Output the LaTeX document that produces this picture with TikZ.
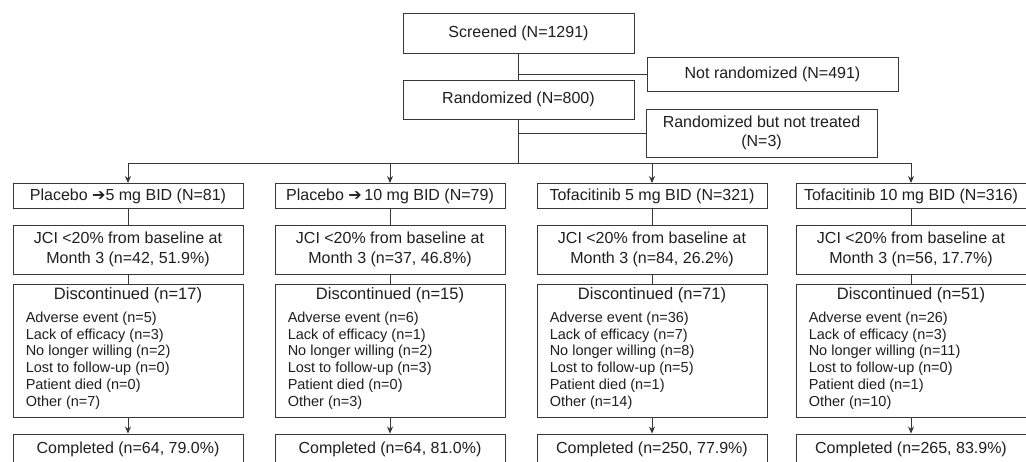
\documentclass[tikz,border=0pt]{standalone}
\usepackage{fontspec}
\setmainfont{Liberation Sans}
\newfontfamily\symfont{DejaVu Sans}
\usetikzlibrary{arrows.meta}
\definecolor{linec}{gray}{0.22}
\definecolor{txtc}{gray}{0.12}
\begin{document}
\begin{tikzpicture}[x=1pt,y=-1pt,
  box/.style={draw=linec, line width=0.9pt, inner sep=0pt, text=txtc,
    font=\fontsize{16}{20}\selectfont, align=center, minimum width=230pt},
  armbox/.style={box, minimum height=25pt},
  jcibox/.style={box, minimum height=49pt},
  discbox/.style={box, minimum height=133pt},
  compbox/.style={box, minimum height=30pt},
  disctitle/.style={inner sep=0pt, text=txtc, font=\fontsize{16.5}{20}\selectfont, anchor=center},
  disclist/.style={inner sep=0pt, text=txtc, font=\fontsize{14.5}{16.8}\selectfont, align=left, anchor=north west},
  conn/.style={draw=linec, line width=0.9pt},
  arr/.style={conn, -{Stealth[length=7pt,width=6pt]}}
]
\clip (0,0) rectangle (1026,462);
\useasboundingbox (0,0) rectangle (1026,462);
\fill[white] (0,0) rectangle (1026,462);

% top part
\node[box, minimum width=231pt, minimum height=40pt] (scr) at (518.5,33) {Screened (N=1291)};
\node[box, minimum width=251pt, minimum height=34pt] (nr) at (772.5,74) {Not randomized (N=491)};
\node[box, minimum width=231pt, minimum height=39pt] (rand) at (518.5,99.5) {Randomized (N=800)};
\node[box, minimum width=231pt, minimum height=48pt, font=\fontsize{16}{19}\selectfont] (rbnt) at (761.5,133) {Randomized but not treated\\(N=3)};
\coordinate (split) at (518.5,163);

\draw[conn] (scr.south) -- (rand.north);
\draw[conn] (nr.west) -- (nr.west -| scr.south);
\draw[conn] (rand.south) -- (split);
\draw[conn] (rbnt.west) -- (rbnt.west -| rand.south);

% arm columns
\foreach \i/\cx/\arm/\jci/\dn/\ae/\le/\nw/\lf/\pd/\ot/\cp in {
 1/128/{Placebo {\symfont ➔}5 mg BID (N=81)}/{n=42, 51.9\%}/17/5/3/2/0/0/7/{n=64, 79.0\%},
 2/390/{Placebo {\symfont ➔}\,10 mg BID (N=79)}/{n=37, 46.8\%}/15/6/1/2/3/0/3/{n=64, 81.0\%},
 3/652/{Tofacitinib 5 mg BID (N=321)}/{n=84, 26.2\%}/71/36/7/8/5/1/14/{n=250, 77.9\%},
 4/911/{Tofacitinib 10 mg BID (N=316)}/{n=56, 17.7\%}/51/26/3/11/0/1/10/{n=265, 83.9\%}}{
  \node[armbox] (a\i) at (\cx,196) {\arm};
  \node[jcibox, font=\fontsize{16}{20}\selectfont] (j\i) at (\cx,249.5) {JCI <20\% from baseline at\\Month 3 (\jci)};
  \node[discbox] (d\i) at (\cx,350.5) {};
  \node[disctitle] (dt\i) at ([yshift=-12pt]d\i.north) {Discontinued (n=\dn)};
  \node[disclist] (dl\i) at ([xshift=13pt,yshift=-28pt]d\i.north west) {Adverse event (n=\ae)\\Lack of efficacy (n=\le)\\No longer willing (n=\nw)\\Lost to follow-up (n=\lf)\\Patient died (n=\pd)\\Other (n=\ot)};
  \node[compbox] (c\i) at (\cx,449) {Completed (\cp)};
  \draw[arr] (a\i.north |- split) -- (a\i.north);
  \draw[conn] (a\i.south) -- (j\i.north);
  \draw[conn] (j\i.south) -- (d\i.north);
  \draw[arr] (d\i.south) -- (c\i.north);
}
\draw[conn] (a1.north |- split) -- (a4.north |- split);
\end{tikzpicture}
\end{document}
